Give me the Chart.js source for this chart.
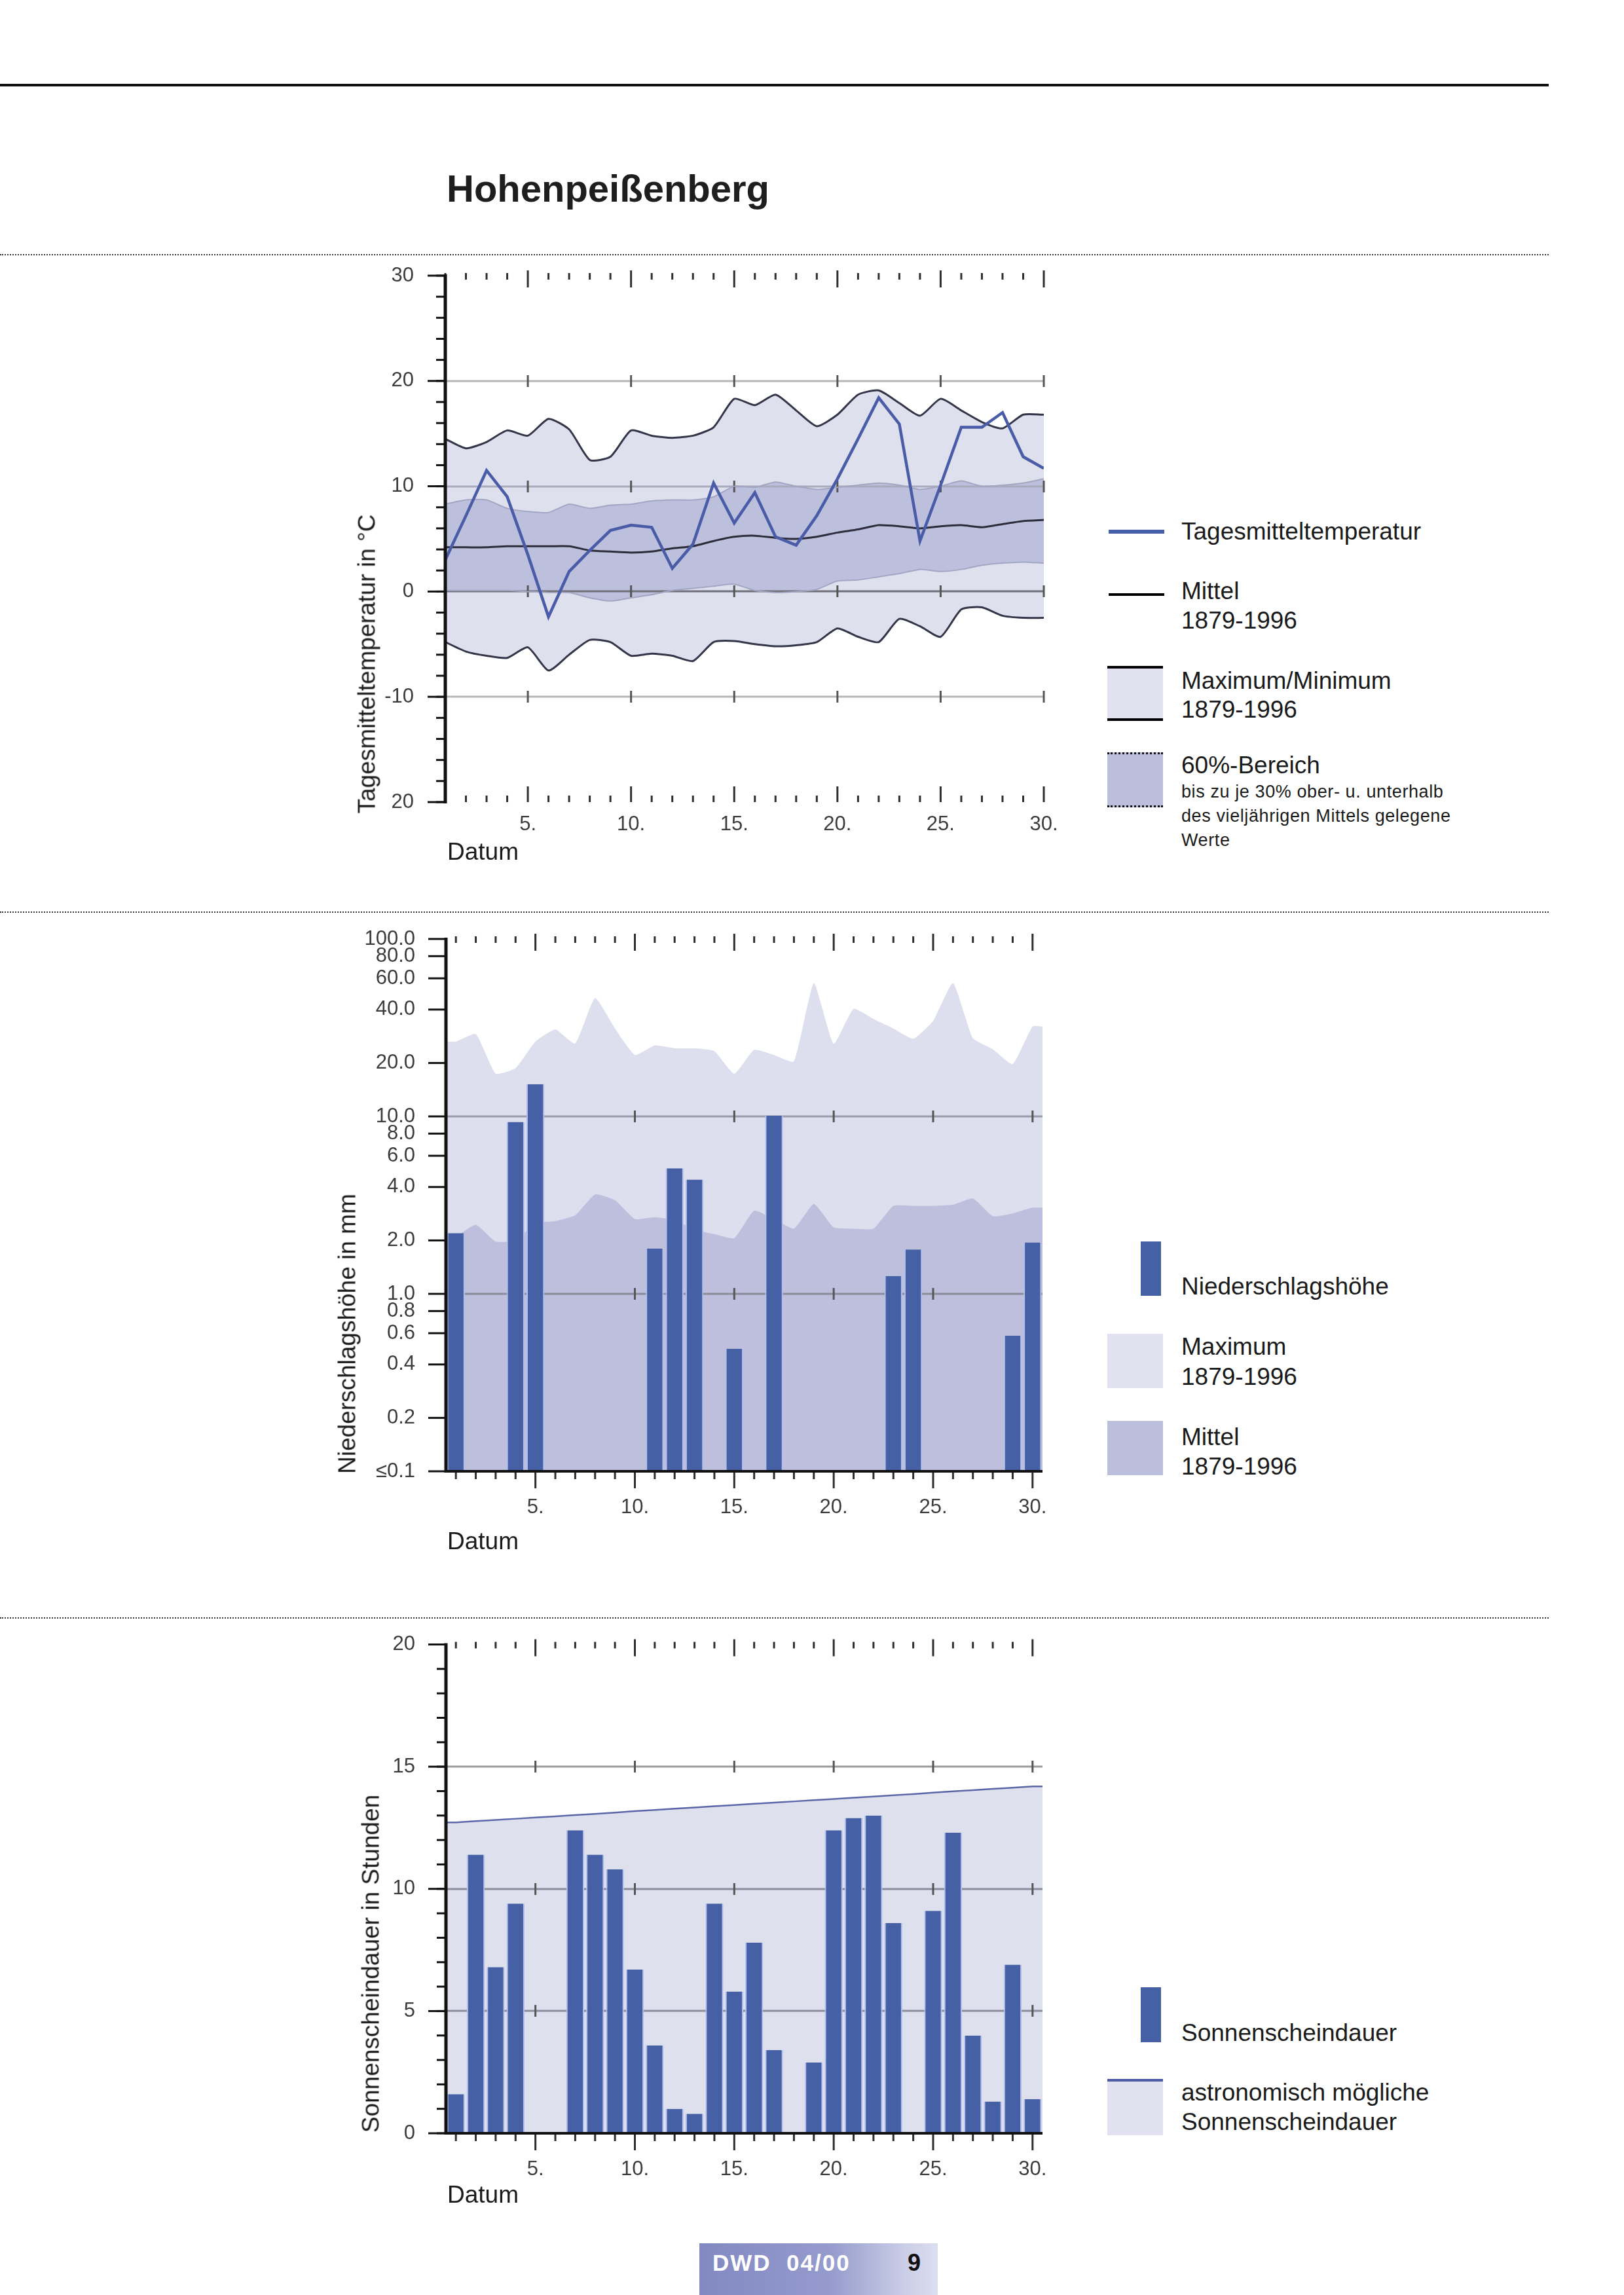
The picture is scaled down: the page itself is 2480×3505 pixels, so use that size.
<!DOCTYPE html>
<html lang="de">
<head>
<meta charset="utf-8">
<title>Hohenpeißenberg</title>
<script src="https://cdn.jsdelivr.net/npm/chart.js@4.4.1/dist/chart.umd.min.js"></script>
<style>
  body { margin: 0; width: 2480px; height: 3505px; position: relative; overflow: hidden; background: #fff;
         font-family: "Liberation Sans", Arial, sans-serif; color: #1a1a1a; }
  .abs { position: absolute; }
  .t { position: absolute; font-size: 37px; line-height: 37px; white-space: nowrap; }
  .small { font-size: 27px; line-height: 27px; letter-spacing: 0.6px; }
  .rot { position: absolute; font-size: 37px; line-height: 37px; white-space: nowrap;
         transform: translate(-50%, -50%) rotate(-90deg); }
  .dots { position: absolute; left: 0; width: 2365px; border-top: 2px dotted #333; }
  canvas { position: absolute; }
</style>
</head>
<body>
<div class="abs" style="left:0;top:128px;width:2365px;height:4px;background:#111"></div>
<div class="t" style="left:682px;top:259px;font-size:58px;line-height:58px;font-weight:bold;color:#1e1e1e">Hohenpeißenberg</div>
<div class="dots" style="top:388px"></div>
<div class="dots" style="top:1392px"></div>
<div class="dots" style="top:2470px"></div>

<canvas id="tempChart" width="1140" height="930" style="left:500px;top:400px"></canvas>
<canvas id="precipChart" width="1140" height="930" style="left:500px;top:1410px"></canvas>
<canvas id="sunChart" width="1140" height="900" style="left:500px;top:2490px"></canvas>

<div class="rot" style="left:560px;top:1014px">Tagesmitteltemperatur in °C</div>
<div class="rot" style="left:530px;top:2037px">Niederschlagshöhe in mm</div>
<div class="rot" style="left:566px;top:2999px">Sonnenscheindauer in Stunden</div>
<div class="t" style="left:683px;top:1282px">Datum</div>
<div class="t" style="left:683px;top:2335px">Datum</div>
<div class="t" style="left:683px;top:3333px">Datum</div>

<!-- legend temperature -->
<div class="abs" style="left:1693px;top:809px;width:85px;height:6px;background:#4560a8"></div>
<div class="t" style="left:1804px;top:793px">Tagesmitteltemperatur</div>
<div class="abs" style="left:1693px;top:906px;width:85px;height:4px;background:#000"></div>
<div class="t" style="left:1804px;top:884px">Mittel</div>
<div class="t" style="left:1804px;top:929px">1879-1996</div>
<div class="abs" style="left:1691px;top:1017px;width:85px;height:84px;box-sizing:border-box;background:#e1e1ef;border-top:4px solid #000;border-bottom:4px solid #000"></div>
<div class="t" style="left:1804px;top:1021px">Maximum/Minimum</div>
<div class="t" style="left:1804px;top:1065px">1879-1996</div>
<div class="abs" style="left:1691px;top:1149px;width:85px;height:84px;box-sizing:border-box;background:#bcbfdc;border-top:3px dotted #111;border-bottom:3px dotted #111"></div>
<div class="t" style="left:1804px;top:1150px">60%-Bereich</div>
<div class="t small" style="left:1804px;top:1196px">bis zu je 30% ober- u. unterhalb</div>
<div class="t small" style="left:1804px;top:1233px">des vieljährigen Mittels gelegene</div>
<div class="t small" style="left:1804px;top:1270px">Werte</div>

<!-- legend precipitation -->
<div class="abs" style="left:1742px;top:1896px;width:31px;height:83px;background:#4560a5"></div>
<div class="t" style="left:1804px;top:1946px">Niederschlagshöhe</div>
<div class="abs" style="left:1691px;top:2037px;width:85px;height:83px;background:#e1e1ef"></div>
<div class="t" style="left:1804px;top:2038px">Maximum</div>
<div class="t" style="left:1804px;top:2084px">1879-1996</div>
<div class="abs" style="left:1691px;top:2170px;width:85px;height:83px;background:#bcbfdc"></div>
<div class="t" style="left:1804px;top:2176px">Mittel</div>
<div class="t" style="left:1804px;top:2221px">1879-1996</div>

<!-- legend sunshine -->
<div class="abs" style="left:1742px;top:3035px;width:31px;height:84px;background:#4560a5"></div>
<div class="t" style="left:1804px;top:3086px">Sonnenscheindauer</div>
<div class="abs" style="left:1691px;top:3175px;width:85px;height:86px;box-sizing:border-box;background:#e1e1ef;border-top:4px solid #4a5ca5"></div>
<div class="t" style="left:1804px;top:3177px">astronomisch mögliche</div>
<div class="t" style="left:1804px;top:3222px">Sonnenscheindauer</div>

<!-- footer -->
<div class="abs" style="left:1068px;top:3426px;width:364px;height:79px;background:linear-gradient(90deg,#8289c2 0%,#959bcd 55%,#c9cce6 85%,#dcdef0 100%)"></div>
<div class="t" style="left:1088px;top:3438px;font-size:35px;line-height:35px;font-weight:bold;color:#fff;letter-spacing:2px">DWD&nbsp;&nbsp;04/00</div>
<div class="t" style="left:1386px;top:3438px;font-size:36px;line-height:36px;font-weight:bold;color:#111">9</div>

<script>
// days of the month
const days = [1, 2, 3, 4, 5, 6, 7, 8, 9, 10, 11, 12, 13, 14, 15, 16, 17, 18, 19, 20, 21, 22, 23, 24, 25, 26, 27, 28, 29, 30];
const dayTicks = [5, 10, 15, 20, 25, 30];
const dayTickLabels = ['5.', '10.', '15.', '20.', '25.', '30.'];

// temperature (°C)
const tempDaily = [3.0, 7.2, 11.5, 9.0, 3.5, -2.4, 1.9, 3.9, 5.8, 6.3, 6.1, 2.2, 4.5, 10.3, 6.5, 9.4, 5.2, 4.4, 7.2, 10.7, 14.5, 18.4, 15.9, 4.8, 10.1, 15.6, 15.6, 17.0, 12.8, 11.7];
const tempMean = [4.2, 4.2, 4.2, 4.3, 4.3, 4.3, 4.3, 3.9, 3.8, 3.7, 3.8, 4.1, 4.3, 4.8, 5.2, 5.3, 5.1, 5.0, 5.2, 5.6, 5.9, 6.3, 6.2, 6.0, 6.2, 6.3, 6.1, 6.4, 6.7, 6.8];
const tempMax = [14.5, 13.6, 14.2, 15.3, 14.8, 16.4, 15.4, 12.5, 12.8, 15.3, 14.8, 14.6, 14.8, 15.6, 18.3, 17.7, 18.7, 17.2, 15.7, 16.8, 18.7, 19.1, 17.9, 16.7, 18.3, 17.2, 16.1, 15.5, 16.8, 16.8];
const tempMin = [-4.8, -5.7, -6.1, -6.3, -5.3, -7.5, -6.0, -4.6, -4.8, -6.1, -5.9, -6.1, -6.6, -4.8, -4.7, -5.0, -5.2, -5.1, -4.8, -3.5, -4.3, -4.8, -2.6, -3.3, -4.3, -1.7, -1.5, -2.3, -2.5, -2.5];
const temp60Upper = [8.3, 8.7, 8.7, 7.9, 7.6, 7.5, 8.3, 7.9, 8.2, 8.3, 8.6, 8.7, 8.7, 9.0, 10.0, 9.9, 10.4, 10.0, 9.7, 9.9, 10.1, 10.3, 10.1, 9.7, 10.0, 10.5, 10.0, 10.1, 10.3, 10.7];
const temp60Lower = [0.1, 0.1, 0.1, 0.1, 0.0, -0.1, -0.1, -0.6, -0.9, -0.6, -0.3, 0.1, 0.3, 0.5, 0.7, 0.1, -0.1, 0.0, 0.2, 1.0, 1.1, 1.4, 1.7, 2.1, 1.9, 2.1, 2.5, 2.7, 2.8, 2.7];
const tempTicks = [30, 20, 10, 0, -10, -20];
const tempTickLabels = ['30', '20', '10', '0', '-10', '20'];

// precipitation (mm)
const precip = [2.2, 0, 0, 9.3, 15.2, 0, 0, 0, 0, 0, 1.8, 5.1, 4.4, 0, 0.49, 0, 10.1, 0, 0, 0, 0, 0, 1.26, 1.78, 0, 0, 0, 0, 0.58, 1.95];
const precipMax = [26.4, 29.1, 17.4, 18.7, 26.4, 30.9, 25.7, 46.4, 31.3, 22.2, 25.1, 24.2, 24.2, 23.3, 17.4, 23.7, 22.2, 20.4, 56.4, 25.7, 40.4, 35.4, 31.3, 27.4, 34.5, 56.4, 27.6, 23.9, 19.7, 32.1];
const precipMean = [2.1, 2.45, 1.97, 2.0, 2.5, 2.57, 2.77, 3.63, 3.37, 2.64, 2.7, 2.6, 2.3, 2.17, 2.06, 2.94, 2.64, 2.33, 3.21, 2.37, 2.33, 2.33, 3.13, 3.13, 3.13, 3.18, 3.45, 2.74, 2.84, 3.06];
const precipTicks = [100, 80, 60, 40, 20, 10, 8, 6, 4, 2, 1, 0.8, 0.6, 0.4, 0.2, 0.1];
const precipTickLabels = ['100.0', '80.0', '60.0', '40.0', '20.0', '10.0', '8.0', '6.0', '4.0', '2.0', '1.0', '0.8', '0.6', '0.4', '0.2', '≤0.1'];

// sunshine (hours)
const sunshine = [1.6, 11.4, 6.8, 9.4, 0, 0, 12.4, 11.4, 10.8, 6.7, 3.6, 1.0, 0.8, 9.4, 5.8, 7.8, 3.4, 0, 2.9, 12.4, 12.9, 13.0, 8.6, 0, 9.1, 12.3, 4.0, 1.3, 6.9, 1.4];
const sunPossible = [12.72, 12.77, 12.82, 12.87, 12.92, 12.97, 13.02, 13.07, 13.12, 13.18, 13.23, 13.28, 13.33, 13.38, 13.43, 13.48, 13.53, 13.58, 13.63, 13.68, 13.73, 13.78, 13.83, 13.88, 13.94, 13.99, 14.04, 14.09, 14.14, 14.19];
const sunTicks = [20, 15, 10, 5, 0];
const sunTickLabels = ['20', '15', '10', '5', '0'];

const tickFont = { family: 'Liberation Sans', size: 31 };
const tickColor = '#3c3c3c';
const barBlue = '#4560a5';

function points(values) {
  return values.map((v, i) => ({ x: days[i], y: v }));
}

// areas reach from the axis to the right edge, holding the first / last day value
function edgePoints(values) {
  return [{ x: days[0] - 0.5, y: values[0] }, ...points(values), { x: days[days.length - 1] + 0.5, y: values[values.length - 1] }];
}

function fixedTicks(values) {
  return scale => { scale.ticks = values.map(v => ({ value: v })); };
}

function labelFrom(values, labels) {
  return v => {
    const i = values.findIndex(t => Math.abs(t - v) < 1e-9);
    return i < 0 ? '' : labels[i];
  };
}

function seg(ctx, x1, y1, x2, y2) {
  ctx.beginPath();
  ctx.moveTo(x1, y1);
  ctx.lineTo(x2, y2);
  ctx.stroke();
}

// grid lines, axis line and all the small tick marks of the original
const frame = {
  id: 'frame',
  beforeDatasetsDraw(chart, args, o) {
    const { ctx, chartArea: a } = chart;
    const x = chart.scales.x, y = chart.scales.y;
    ctx.save();
    ctx.lineWidth = 3;
    for (const g of o.grid) {
      const py = Math.round(y.getPixelForValue(g.value));
      ctx.strokeStyle = g.color;
      seg(ctx, a.left, py, a.right, py);
      ctx.strokeStyle = '#555';
      for (const d of dayTicks) {
        const px = x.getPixelForValue(d);
        seg(ctx, px, py - 9, px, py + 9);
      }
    }
    ctx.restore();
  },
  afterDatasetsDraw(chart, args, o) {
    const { ctx, chartArea: a } = chart;
    const x = chart.scales.x, y = chart.scales.y;
    ctx.save();
    ctx.strokeStyle = '#2e2e2e';
    ctx.lineWidth = 3;
    for (const d of days) {
      const px = x.getPixelForValue(d);
      const major = dayTicks.includes(d);
      seg(ctx, px, a.top - (major ? 8 : 4), px, a.top + (major ? 18 : 6));
      if (o.ticksBelow) seg(ctx, px, a.bottom, px, a.bottom + (major ? 26 : 12));
      else seg(ctx, px, a.bottom - (major ? 24 : 10), px, a.bottom);
    }
    ctx.strokeStyle = '#111';
    if (o.baseLine) {
      ctx.lineWidth = 4;
      seg(ctx, a.left, a.bottom, a.right, a.bottom);
    }
    ctx.lineWidth = 5;
    seg(ctx, a.left, a.top - 2, a.left, a.bottom + 2);
    ctx.lineWidth = 3;
    for (const t of y.ticks) {
      const py = y.getPixelForValue(t.value);
      seg(ctx, a.left - 27, py, a.left, py);
    }
    if (o.minorStep) {
      for (let v = y.min; v <= y.max; v += o.minorStep) {
        const py = y.getPixelForValue(v);
        seg(ctx, a.left - 14, py, a.left, py);
      }
    }
    ctx.restore();
  }
};

function dayAxis(min, max, height, pad) {
  return {
    type: 'linear', min, max, offset: false,
    grid: { display: false }, border: { display: false },
    afterBuildTicks: fixedTicks(dayTicks),
    afterFit: s => { s.height = height; s.paddingLeft = 0; s.paddingRight = 0; },
    ticks: { callback: labelFrom(dayTicks, dayTickLabels), padding: pad, autoSkip: false, maxRotation: 0, color: tickColor, font: tickFont }
  };
}

function valueAxis(extra, values, labels, width, pad) {
  return Object.assign({
    grid: { display: false }, border: { display: false },
    afterBuildTicks: fixedTicks(values),
    // keep the plot area where the layout padding puts it
    afterFit: s => { s.width = width; s.paddingTop = 0; s.paddingBottom = 0; },
    ticks: { callback: labelFrom(values, labels), padding: pad, autoSkip: false, color: tickColor, font: tickFont }
  }, extra);
}

const common = {
  responsive: false,
  animation: false,
  devicePixelRatio: 1,
  elements: { point: { radius: 0 } }
};

// temperature
new Chart(document.getElementById('tempChart'), {
  type: 'line',
  data: {
    datasets: [
      { data: points(temp60Upper), borderColor: '#a3a6c2', borderWidth: 2, fill: 1, backgroundColor: '#bcc0dc', tension: 0.2, order: 3 },
      { data: points(temp60Lower), borderColor: '#a3a6c2', borderWidth: 2, fill: false, tension: 0.2, order: 3 },
      { data: points(tempMax), borderColor: '#35354a', borderWidth: 3, fill: 3, backgroundColor: '#dfe0ee', tension: 0.2, order: 4 },
      { data: points(tempMin), borderColor: '#35354a', borderWidth: 3, fill: false, tension: 0.2, order: 4 },
      { data: points(tempMean), borderColor: '#2c2c3a', borderWidth: 3, fill: false, tension: 0.2, order: 2 },
      { data: points(tempDaily), borderColor: '#4a5ca8', borderWidth: 4.5, fill: false, tension: 0, order: 1 }
    ]
  },
  options: Object.assign({}, common, {
    layout: { padding: { top: 21, right: 46, left: 0, bottom: 0 } },
    scales: {
      x: dayAxis(1, 30, 105, 8),
      y: valueAxis({ type: 'linear', min: -20, max: 30 }, tempTicks, tempTickLabels, 180, 40)
    },
    plugins: {
      legend: { display: false }, tooltip: { enabled: false },
      filler: { drawTime: 'beforeDatasetsDraw' },
      frame: { grid: [{ value: 20, color: '#b6b6b8' }, { value: 10, color: '#a9aabb' }, { value: 0, color: '#6e6e78' }, { value: -10, color: '#b6b6b8' }], minorStep: 2, ticksBelow: false, baseLine: false }
    }
  }),
  plugins: [frame]
});

// precipitation
new Chart(document.getElementById('precipChart'), {
  type: 'bar',
  data: {
    datasets: [
      { data: points(precip), backgroundColor: barBlue, borderColor: '#b3bfee', borderWidth: { left: 2, right: 2, top: 0, bottom: 0 }, barPercentage: 0.9, categoryPercentage: 1, order: 1 },
      { type: 'line', data: edgePoints(precipMean), borderWidth: 0, fill: 'start', backgroundColor: '#bdbfdc', tension: 0.15, order: 2 },
      { type: 'line', data: edgePoints(precipMax), borderWidth: 0, fill: 'start', backgroundColor: '#dddeee', tension: 0.15, order: 3 }
    ]
  },
  options: Object.assign({}, common, {
    layout: { padding: { top: 24, right: 48, left: 0, bottom: 0 } },
    scales: {
      x: dayAxis(0.5, 30.5, 93, 29),
      y: valueAxis({ type: 'logarithmic', min: 0.1, max: 100 }, precipTicks, precipTickLabels, 181, 39)
    },
    plugins: {
      legend: { display: false }, tooltip: { enabled: false },
      filler: { drawTime: 'beforeDatasetsDraw' },
      frame: { grid: [{ value: 10, color: '#9a9aaa' }, { value: 1, color: '#8c8c9c' }], ticksBelow: true, baseLine: true }
    }
  }),
  plugins: [frame]
});

// sunshine
new Chart(document.getElementById('sunChart'), {
  type: 'bar',
  data: {
    datasets: [
      { data: points(sunshine), backgroundColor: barBlue, borderColor: '#b3bfee', borderWidth: { left: 2, right: 2, top: 0, bottom: 0 }, barPercentage: 0.9, categoryPercentage: 1, order: 1 },
      { type: 'line', data: edgePoints(sunPossible), borderColor: '#5a66a8', borderWidth: 2.5, fill: 'start', backgroundColor: '#dfe0ee', tension: 0, order: 2 }
    ]
  },
  options: Object.assign({}, common, {
    layout: { padding: { top: 21.5, right: 48, left: 0, bottom: 0 } },
    scales: {
      x: dayAxis(0.5, 30.5, 132, 29),
      y: valueAxis({ type: 'linear', min: 0, max: 20 }, sunTicks, sunTickLabels, 181, 39)
    },
    plugins: {
      legend: { display: false }, tooltip: { enabled: false },
      filler: { drawTime: 'beforeDatasetsDraw' },
      frame: { grid: [{ value: 15, color: '#9c9c9e' }, { value: 10, color: '#8c8c9c' }, { value: 5, color: '#8c8c9c' }], minorStep: 1, ticksBelow: true, baseLine: true }
    }
  }),
  plugins: [frame]
});
</script>
</body>
</html>
